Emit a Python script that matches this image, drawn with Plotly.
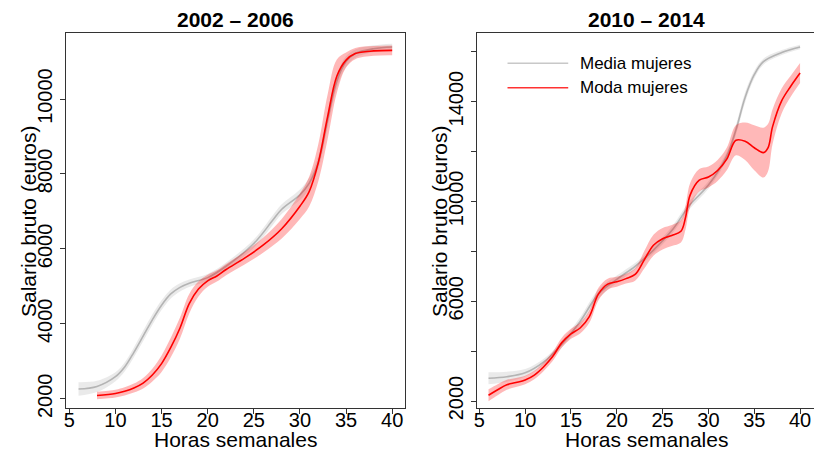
import plotly.graph_objects as go

# ---- 2002 - 2006 ----
x_media_0206 = [6, 8, 10, 11, 12, 13, 14, 15, 16, 17, 18, 20, 22, 25, 27, 28, 30, 31, 32, 33, 34, 35, 36, 38, 40]
y_media_0206 = [2260, 2328, 2588, 2848, 3238, 3672, 4107, 4497, 4798, 4973, 5085, 5233, 5537, 6143, 6749, 7053,
                7443, 7748, 8310, 9438, 10479, 11000, 11215, 11345, 11389]
se_media_0206 = [180, 150, 120, 120, 130, 140, 140, 130, 120, 110, 100, 100, 100, 110, 130, 130, 140, 150, 170,
                 200, 180, 140, 110, 90, 90]

x_moda_0206 = [8, 10, 11, 12, 13, 14, 15, 16, 17, 18, 19, 20, 21, 22, 24, 26, 28, 30, 31, 32, 33, 34, 35, 36, 38, 40]
y_moda_0206 = [2086, 2138, 2198, 2286, 2416, 2632, 2936, 3368, 3888, 4538, 4928, 5147, 5277, 5449, 5753, 6099,
               6533, 7139, 7529, 8310, 9524, 10609, 11040, 11215, 11285, 11300]
se_moda_0206 = [100, 105, 110, 120, 140, 170, 220, 260, 280, 260, 200, 160, 150, 150, 170, 200, 260, 340, 400,
                500, 600, 450, 200, 150, 130, 130]

# ---- 2010 - 2014 ----
x_media_1014 = [6, 8, 10, 12, 14, 16, 18, 20, 22, 24, 26, 28, 30, 32, 33, 34, 35, 36, 38, 40]
y_media_1014 = [2913, 2976, 3132, 3561, 4280, 5189, 6294, 6880, 7402, 8050, 8831, 9873, 10654, 11825, 12867,
                14167, 15077, 15600, 15963, 16186]
se_media_1014 = [240, 200, 150, 120, 130, 170, 180, 150, 130, 130, 150, 160, 150, 160, 200, 200, 150, 120, 100, 90]

x_moda_1014 = [6, 7, 8, 9, 10, 11, 12, 13, 14, 15, 16, 17, 18, 19, 20, 21, 22, 23, 24, 25, 26, 27, 27.5, 28, 29,
               30, 31, 32, 33, 34, 35, 36, 36.5, 37, 38, 39, 40]
y_moda_1014 = [2234, 2456, 2652, 2742, 2847, 3042, 3366, 3784, 4342, 4693, 4927, 5384, 6294, 6684, 6778, 6906,
               7075, 7660, 8245, 8507, 8637, 8808, 9355, 10253, 10849, 10979, 11240, 11696, 12450, 12411, 12150,
               11955, 12150, 12996, 14038, 14624, 15144]
se_moda_1014 = [240, 220, 200, 180, 170, 170, 170, 180, 200, 200, 220, 250, 250, 220, 200, 200, 250, 350, 420,
                430, 420, 450, 480, 480, 450, 420, 420, 450, 600, 750, 900, 1000, 950, 700, 500, 420, 400]

titles = ["2002 \u2013 2006", "2010 \u2013 2014"]
x_title = "Horas semanales"
y_title = "Salario bruto (euros)"
legend_names = ["Media mujeres", "Moda mujeres"]
x_ticks = [5, 10, 15, 20, 25, 30, 35, 40]
y_ticks_0206 = [2000, 4000, 6000, 8000, 10000]
y_labels_0206 = ["2000", "4000", "6000", "8000", "10000"]
y_ticks_1014 = [2000, 4000, 6000, 8000, 10000, 12000, 14000, 16000]
y_labels_1014 = ["2000", "", "6000", "", "10000", "", "14000", ""]

FONT = "Liberation Sans, Arial, Helvetica, sans-serif"
GRAY_LINE = "rgba(150,150,150,0.65)"
GRAY_BAND = "rgba(190,190,190,0.32)"
RED_LINE = "rgb(255,0,0)"
RED_BAND = "rgba(255,0,0,0.28)"

fig = go.Figure()


def add_series(x, y, se, line_color, band_color, xa, ya):
    upper = [v + s for v, s in zip(y, se)]
    lower = [v - s for v, s in zip(y, se)]
    fig.add_trace(go.Scatter(x=x, y=upper, mode="lines", line=dict(width=0, shape="spline"),
                             xaxis=xa, yaxis=ya, showlegend=False, hoverinfo="skip"))
    fig.add_trace(go.Scatter(x=x, y=lower, mode="lines", line=dict(width=0, shape="spline"),
                             fill="tonexty", fillcolor=band_color,
                             xaxis=xa, yaxis=ya, showlegend=False, hoverinfo="skip"))
    fig.add_trace(go.Scatter(x=x, y=y, mode="lines", line=dict(color=line_color, width=1.6, shape="spline"),
                             xaxis=xa, yaxis=ya, showlegend=False))


add_series(x_media_0206, y_media_0206, se_media_0206, GRAY_LINE, GRAY_BAND, "x", "y")
add_series(x_moda_0206, y_moda_0206, se_moda_0206, RED_LINE, RED_BAND, "x", "y")
add_series(x_media_1014, y_media_1014, se_media_1014, GRAY_LINE, GRAY_BAND, "x2", "y2")
add_series(x_moda_1014, y_moda_1014, se_moda_1014, RED_LINE, RED_BAND, "x2", "y2")

W, H = 814, 465
axis_common = dict(showgrid=False, zeroline=False, showline=True, linecolor="#333", linewidth=1,
                   ticks="outside", ticklen=5, tickcolor="#333", tickwidth=1,
                   tickfont=dict(family=FONT, size=20, color="black"))
x_common = dict(ticklabelstandoff=-11, **axis_common)
y_dom = [1 - 419.3 / H, 1 - 34 / H]

# right panel: the axis runs to the page edge; keep the last tick label inside the page
px_per_unit_2 = (800.0 - 477.7) / 35.0
x2_lo = 5 - (477.7 - 475.7) / px_per_unit_2
x2_hi = x2_lo + (W - 475.7) / px_per_unit_2

fig.update_layout(
    width=W, height=H,
    margin=dict(l=0, r=0, t=0, b=0),
    paper_bgcolor="white", plot_bgcolor="white",
    showlegend=False,
    xaxis=dict(domain=[62.3 / W, 402.7 / W], range=[4.64, 41.36], tickvals=x_ticks, mirror=True,
               anchor="y", **x_common),
    yaxis=dict(domain=y_dom, range=[1740, 11760], tickvals=y_ticks_0206, ticktext=y_labels_0206,
               tickangle=-90, mirror=True, anchor="x", **axis_common),
    xaxis2=dict(domain=[475.7 / W, 1.0], range=[x2_lo, x2_hi], tickvals=x_ticks,
                mirror=True, anchor="y2", **x_common),
    yaxis2=dict(domain=y_dom, range=[1703, 16744], tickvals=y_ticks_1014, ticktext=y_labels_1014,
                tickangle=-90, anchor="x2", **axis_common),
)

ann = []
# panel titles
for cx, t in zip([232.5 / W, 646 / W], titles):
    ann.append(dict(x=cx, y=1 - 20 / H, xref="paper", yref="paper", text="<b>" + t + "</b>",
                    showarrow=False, xanchor="center", yanchor="middle",
                    font=dict(family=FONT, size=21, color="black")))
# x axis titles, sitting on the bottom edge
for cx in [232.5 / W, 646 / W]:
    ann.append(dict(x=cx, y=0, xref="paper", yref="paper", text=x_title, showarrow=False,
                    xanchor="center", yanchor="bottom", font=dict(family=FONT, size=21, color="black")))
# y axis titles
for cx in [24 / W, 437 / W]:
    ann.append(dict(x=cx, y=1 - 227 / H, xref="paper", yref="paper", text=y_title, showarrow=False,
                    textangle=-90, xanchor="center", yanchor="middle",
                    font=dict(family=FONT, size=21, color="black")))

# legend in the right panel
shapes = []
for yy, col, name in zip([65, 90], ["rgba(200,200,200,1)", "rgba(255,50,50,1)"], legend_names):
    shapes.append(dict(type="line", xref="paper", yref="paper", x0=506 / W, x1=567 / W,
                       y0=1 - yy / H, y1=1 - yy / H, line=dict(color=col, width=1.6)))
    ann.append(dict(x=577 / W, y=1 - yy / H, xref="paper", yref="paper", text=name, showarrow=False,
                    xanchor="left", yanchor="middle", font=dict(family=FONT, size=17, color="black")))

fig.update_layout(annotations=ann, shapes=shapes)
fig.write_html("out.html")
